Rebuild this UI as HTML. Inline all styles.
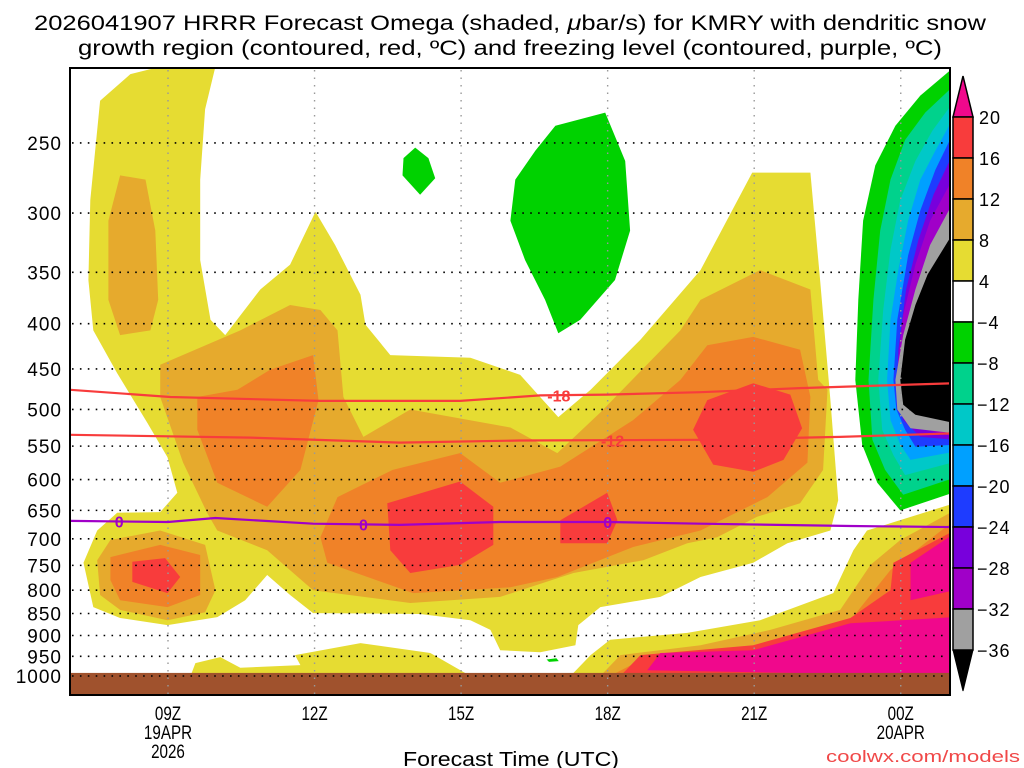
<!DOCTYPE html>
<html><head><meta charset="utf-8"><title>HRRR Omega KMRY</title>
<style>
html,body{margin:0;padding:0;background:#fff;}
svg{display:block;font-family:"Liberation Sans",sans-serif;}
</style></head>
<body>
<svg id="chart" width="1024" height="768" viewBox="0 0 1024 768" xmlns="http://www.w3.org/2000/svg">
<defs><clipPath id="plotclip"><rect x="70" y="68" width="880" height="627"/></clipPath></defs>
<rect x="0" y="0" width="1024" height="768" fill="#fff"/>
<g font-size="21" fill="#000" text-anchor="middle">
<text x="510" y="30" textLength="952" lengthAdjust="spacingAndGlyphs">2026041907 HRRR Forecast Omega (shaded, <tspan font-style="italic">μ</tspan>bar/s) for KMRY with dendritic snow</text>
<text x="510" y="55" textLength="864" lengthAdjust="spacingAndGlyphs">growth region (contoured, red, ºC) and freezing level (contoured, purple, ºC)</text>
</g>
<g id="fills" clip-path="url(#plotclip)"></g>
<g id="grid"></g>
<g id="lines" clip-path="url(#plotclip)"></g>
<g id="axes"></g>
<g id="cbar"></g>
<text x="511" y="766" font-size="20" text-anchor="middle" textLength="216" lengthAdjust="spacingAndGlyphs">Forecast Time (UTC)</text>
<text x="1020" y="762" font-size="17" fill="#f04848" text-anchor="end" textLength="194" lengthAdjust="spacingAndGlyphs">coolwx.com/models</text>
</svg>
<script>
// ---- axis data ----
const pressureTicks = [250,300,350,400,450,500,550,600,650,700,750,800,850,900,950,1000];
const hourTicks = [9,12,15,18,21,24];
const hourLabels = ["09Z","12Z","15Z","18Z","21Z","00Z"];
const dateLabels = [["19APR","2026"],[],[],[],[],["20APR"]];
const cbarLevels = [20,16,12,8,4,-4,-8,-12,-16,-20,-24,-28,-32,-36];
const cbarColors = ["#f83c3c","#f08228","#e6aa2d","#e6dc32","#ffffff","#00d200","#00d28c","#00c8c8","#00a0ff","#1e3cff","#7800dc","#a000c8","#a0a0a0"];

// ---- omega contour regions [hour, hPa] ----
const yellowMain = [[7.61,224],[8.23,209],[8.84,205],[9.97,205],[9.76,229],[9.66,275],[9.66,339],[9.87,396],[10.17,412],[10.89,366],[11.5,343],[12.02,299],[12.42,326],[12.94,371],[13.04,401],[13.55,434],[15.19,437],[16.21,457],[16.99,510],[17.65,475],[18.67,417],[19.9,348],[20.96,270],[22.15,270],[22.35,357],[22.56,488],[22.72,633],[22.56,685],[21.68,708],[20.98,745],[19.9,773],[19.08,814],[17.85,836],[17.4,876],[17.34,923],[16.62,940],[15.8,935],[15.6,887],[15.19,865],[14.16,851],[11.97,849],[11.5,810],[11.03,769],[10.58,821],[10.01,858],[8.99,876],[8.02,860],[7.47,836],[7.27,745],[7.55,685],[7.96,654],[8.84,653],[9.19,621],[8.99,566],[8.58,518],[7.96,455],[7.47,407],[7.37,357],[7.41,290]];
const yellowBottomLeft = [[9.46,1000],[9.56,967],[10.07,952],[10.48,979],[11.71,972],[11.6,947],[12.94,918],[14.37,942],[15.19,1000]];
const yellowBottomRight = [[17.24,1000],[17.65,947],[18.05,910],[19.63,894],[21.12,865],[22.62,806],[23.03,721],[23.31,685],[25.1,638],[25.1,1000]];
const goldColumn = [[8.02,272],[8.54,275],[8.74,314],[8.8,376],[8.64,407],[8.02,412],[7.78,376],[7.78,306]];
const goldMain = [[8.84,445],[10.48,407],[11.5,381],[12.12,386],[12.47,407],[12.59,484],[13.0,537],[13.96,500],[16.01,524],[16.97,560],[17.85,504],[19.49,407],[19.9,376],[21.12,348],[22.15,366],[22.31,463],[22.5,475],[22.41,585],[21.94,638],[21.06,661],[20.24,697],[19.63,708],[18.73,740],[17.3,765],[15.8,814],[13.96,827],[11.97,800],[11.03,721],[10.01,685],[9.8,654],[9.31,574],[8.84,484]];
const goldBlob = [[7.55,740],[7.82,702],[8.84,685],[9.76,711],[9.97,800],[9.76,847],[8.99,865],[8.02,842],[7.61,810]];
const goldBottom = [[17.85,1000],[18.26,947],[19.9,923],[21.33,887],[22.76,842],[23.38,749],[23.99,702],[25.1,650],[25.1,1000]];
const orangeUpper = [[9.6,484],[10.42,475],[11.09,451],[11.97,434],[12.08,488],[11.71,585],[11.03,644],[10.01,605],[9.6,527]];
const orangeMain = [[12.12,697],[12.26,745],[14.02,806],[16.01,794],[16.97,773],[18.52,715],[19.9,685],[21.27,628],[22.09,574],[22.15,484],[21.94,428],[20.98,414],[20.04,423],[19.49,463],[18.52,514],[17.03,580],[15.8,605],[14.98,560],[13.6,585],[12.47,628]];
const orangeBlob = [[7.82,734],[8.84,711],[9.66,730],[9.66,810],[8.99,836],[8.02,821],[7.82,779]];
const orangeBottom = [[18.05,1000],[18.87,947],[21.12,923],[22.97,865],[23.79,759],[25.1,667],[25.1,1000]];
const redBlob = [[8.27,743],[8.94,736],[9.25,773],[8.99,806],[8.27,783]];
const redCentral = [[13.49,638],[14.98,603],[15.66,644],[15.66,711],[14.98,749],[13.96,765],[13.55,721]];
const red18z = [[17.03,667],[17.99,621],[18.2,667],[17.99,708],[17.03,708]];
const red21z = [[19.75,527],[20.04,488],[20.98,467],[21.74,481],[21.98,525],[21.6,570],[20.98,588],[20.16,577]];
const redBottom = [[18.26,1000],[18.67,947],[20.98,923],[22.97,860],[23.79,800],[23.85,745],[25.1,685],[25.1,1000]];
const magentaBottom = [[18.81,985],[19.08,942],[20.98,935],[22.97,872],[25.1,858],[25.1,1000]];
const magentaBlob = [[24.2,745],[25.1,690],[25.1,800],[24.2,821]];
const greenSmall = [[13.82,260],[14.06,253],[14.33,260],[14.47,274],[14.16,286],[13.8,272]];
const greenBig = [[16.93,239],[17.95,231],[18.36,262],[18.46,314],[18.15,357],[17.44,396],[16.99,410],[16.72,376],[16.31,339],[16.01,306],[16.11,275],[16.52,255]];
const greenSpeck = [[16.75,958],[16.95,955],[17.0,962],[16.8,964]];
const greenSpeck2 = [[7.65,998],[8.15,996],[8.15,1000],[7.65,1000]];
// negative-omega bands at right edge (outer to inner)
const bandGreen = [[25.1,205],[24.4,221],[23.89,239],[23.48,265],[23.23,306],[23.13,376],[23.07,463],[23.21,548],[23.52,605],[23.99,650],[25.1,620]];
const bandTeal = [[25.1,215],[24.5,231],[24.09,248],[23.79,275],[23.58,314],[23.44,376],[23.34,463],[23.42,541],[23.68,585],[24.05,624],[25.1,597]];
const bandCyan = [[25.1,224],[24.65,242],[24.3,262],[23.99,290],[23.79,330],[23.64,386],[23.54,463],[23.62,527],[23.85,563],[24.09,593],[25.1,573]];
const bandAzure = [[25.1,233],[24.71,255],[24.4,275],[24.15,306],[23.95,348],[23.79,396],[23.72,463],[23.79,514],[23.99,548],[24.2,570],[25.1,558]];
const bandBlue = [[25.1,242],[24.71,268],[24.4,298],[24.15,335],[23.93,396],[23.85,463],[23.91,500],[24.09,527],[24.3,551],[25.1,548]];
const bandViolet = [[25.1,255],[24.67,286],[24.36,322],[24.11,366],[23.95,428],[23.93,488],[24.05,514],[24.4,537],[25.1,541]];
const bandPurple = [[25.1,272],[24.6,306],[24.3,343],[24.05,391],[23.93,451],[23.95,494],[24.15,521],[25.1,537]];
const bandGray = [[25.1,290],[24.6,326],[24.3,366],[24.05,412],[23.89,463],[23.93,500],[24.2,525],[25.1,532]];
const bandBlack = [[25.1,314],[24.55,352],[24.3,381],[24.09,417],[23.99,463],[24.05,494],[24.3,507],[25.1,518]];

// ---- temperature contour lines [hour, hPa] ----
const lineMinus18 = [[7,475],[9.05,484],[12.12,489],[14.98,489],[16.62,482],[17.99,481],[19.9,478],[21.94,473],[25.1,467]];
const lineMinus12 = [[7,534],[10.68,538],[13.75,545],[16.21,542],[19.9,541],[22.76,537],[25.1,532]];
const lineFreezing = [[7,668],[9,670],[9.97,663],[11.97,673],[13.75,675],[15.8,670],[17.99,670],[19.9,673],[22.97,677],[25.1,679]];
const labelMinus18 = [17.0,482];
const labelMinus12 = [18.1,542];
const freezingLabelHours = [8,13,18];

// ---- axis functions ----
function xs(h){ return 168 + (h-9)*48.85; }
function ys(p){ return 676 - 384.5*Math.log(1000/p); }
const NS = "http://www.w3.org/2000/svg";
function mk(tag, parent){ const e=document.createElementNS(NS,tag); parent.appendChild(e); return e; }
function pts(arr){ return arr.map(d=>xs(d[0]).toFixed(1)+","+ys(d[1]).toFixed(1)).join(" "); }

const fillsG = document.getElementById("fills");
function region(arr, color, name){
  const e = mk("polygon", fillsG);
  e.setAttribute("points", pts(arr));
  e.setAttribute("fill", color);
  
  
}
region(yellowMain,"#e6dc32","omega-4-8-main");
region(yellowBottomLeft,"#e6dc32","omega-4-8-bottom-left");
region(yellowBottomRight,"#e6dc32","omega-4-8-bottom-right");
region(goldColumn,"#e6aa2d","omega-8-12-column");
region(goldMain,"#e6aa2d","omega-8-12-main");
region(goldBlob,"#e6aa2d","omega-8-12-blob");
region(goldBottom,"#e6aa2d","omega-8-12-bottom");
region(orangeUpper,"#f08228","omega-12-16-upper");
region(orangeMain,"#f08228","omega-12-16-main");
region(orangeBlob,"#f08228","omega-12-16-blob");
region(orangeBottom,"#f08228","omega-12-16-bottom");
region(redBlob,"#f83c3c","omega-16-20-blob");
region(redCentral,"#f83c3c","omega-16-20-central");
region(red18z,"#f83c3c","omega-16-20-18z");
region(red21z,"#f83c3c","omega-16-20-21z");
region(redBottom,"#f83c3c","omega-16-20-bottom");
region(magentaBottom,"#f0088c","omega-over-20-bottom");
region(magentaBlob,"#f0088c","omega-over-20-blob");
region(greenSmall,"#00d200","omega-neg4-small");
region(greenBig,"#00d200","omega-neg4-big");
region(greenSpeck,"#00d200","omega-neg4-speck");
region(greenSpeck2,"#00d200","omega-neg4-speck-left");
region(bandGreen,"#00d200","omega-band-neg4");
region(bandTeal,"#00d28c","omega-band-neg8");
region(bandCyan,"#00c8c8","omega-band-neg12");
region(bandAzure,"#00a0ff","omega-band-neg16");
region(bandBlue,"#1e3cff","omega-band-neg20");
region(bandViolet,"#7800dc","omega-band-neg24");
region(bandPurple,"#a000c8","omega-band-neg28");
region(bandGray,"#a0a0a0","omega-band-neg32");
region(bandBlack,"#000000","omega-band-neg36");
const groundRect = mk("rect", fillsG);
groundRect.setAttribute("x", xs(7)); groundRect.setAttribute("y", ys(992));
groundRect.setAttribute("width", 880); groundRect.setAttribute("height", 30);
groundRect.setAttribute("fill","#a0522d");



// grid
const gridG = document.getElementById("grid");
pressureTicks.forEach(p=>{
  const l = mk("line", gridG);
  l.setAttribute("x1",72); l.setAttribute("x2",948);
  l.setAttribute("y1",ys(p)); l.setAttribute("y2",ys(p));
  l.setAttribute("stroke","#000"); l.setAttribute("stroke-width","1.6");
  l.setAttribute("stroke-dasharray","1.6,6.3");
  
  
});
hourTicks.forEach(h=>{
  const l = mk("line", gridG);
  l.setAttribute("x1",xs(h)); l.setAttribute("x2",xs(h));
  l.setAttribute("y1",70); l.setAttribute("y2",695);
  l.setAttribute("stroke","#999"); l.setAttribute("stroke-width","1.4");
  l.setAttribute("stroke-dasharray","1.5,6");
  
  
});

// temperature lines
const linesG = document.getElementById("lines");
function cline(arr,color,name){
  const e = mk("polyline", linesG);
  e.setAttribute("points", pts(arr));
  e.setAttribute("fill","none"); e.setAttribute("stroke",color); e.setAttribute("stroke-width","2.2");
  
  
}
cline(lineMinus18,"#f83c3c","dgz-minus18-contour");
cline(lineMinus12,"#f83c3c","dgz-minus12-contour");
cline(lineFreezing,"#a000c8","freezing-level-contour");
function clabel(h,p,txt,color,name){
  const t = mk("text", linesG);
  t.setAttribute("x", xs(h)); t.setAttribute("y", ys(p)+6);
  t.setAttribute("text-anchor","middle"); t.setAttribute("font-size","16");
  t.setAttribute("font-weight","bold"); t.setAttribute("fill",color);
  t.textContent = txt;
  
  
}
clabel(labelMinus18[0],labelMinus18[1],"-18","#f83c3c","label-minus18");
clabel(labelMinus12[0],labelMinus12[1],"-12","#f83c3c","label-minus12");
freezingLabelHours.forEach(h=>{
  const idx = lineFreezing.findIndex(d=>d[0]>=h);
  const a = lineFreezing[Math.max(idx-1,0)], b = lineFreezing[idx];
  const f = b[0]===a[0]?0:(h-a[0])/(b[0]-a[0]);
  clabel(h, a[1]+(b[1]-a[1])*f, "0", "#a000c8", "label-freezing");
});

// axes
const axesG = document.getElementById("axes");
const plotFrame = mk("rect", axesG);
plotFrame.setAttribute("x",70); plotFrame.setAttribute("y",68); plotFrame.setAttribute("width",880); plotFrame.setAttribute("height",627);
plotFrame.setAttribute("fill","none"); plotFrame.setAttribute("stroke","#000"); plotFrame.setAttribute("stroke-width","2");


pressureTicks.forEach(p=>{
  const t = mk("text", axesG);
  t.setAttribute("x",62); t.setAttribute("y",ys(p)+7);
  t.setAttribute("text-anchor","end"); t.setAttribute("font-size","19");
  t.setAttribute("letter-spacing","1");
  t.textContent = p;
  
  
});
hourTicks.forEach((h,i)=>{
  const t = mk("text", axesG);
  t.setAttribute("x",xs(h)); t.setAttribute("y",720);
  t.setAttribute("text-anchor","middle"); t.setAttribute("font-size","19");
  t.setAttribute("transform","translate("+xs(h)+",0) scale(0.8,1) translate("+(-xs(h))+",0)");
  t.textContent = hourLabels[i];
  
  
  dateLabels[i].forEach((s,j)=>{
    const d = mk("text", axesG);
    d.setAttribute("x",xs(h)); d.setAttribute("y",739+j*19);
    d.setAttribute("text-anchor","middle"); d.setAttribute("font-size","19");
    d.setAttribute("transform","translate("+xs(h)+",0) scale(0.8,1) translate("+(-xs(h))+",0)");
    d.textContent = s;
    
    
  });
});

// colorbar
const cbarG = document.getElementById("cbar");
function cby(i){ return 117 + i*41; }
const cbTopArrow = mk("polygon", cbarG);
cbTopArrow.setAttribute("points", "953,"+cby(0)+" 973,"+cby(0)+" 963,76");
cbTopArrow.setAttribute("fill","#f0088c"); cbTopArrow.setAttribute("stroke","#000"); cbTopArrow.setAttribute("stroke-width","1.5");


cbarColors.forEach((c,i)=>{
  const r = mk("rect", cbarG);
  r.setAttribute("x",953); r.setAttribute("y",cby(i)); r.setAttribute("width",20); r.setAttribute("height",41);
  r.setAttribute("fill",c); r.setAttribute("stroke","#000"); r.setAttribute("stroke-width","1.5");
  
  
});
const cbBotArrow = mk("polygon", cbarG);
cbBotArrow.setAttribute("points", "953,"+cby(13)+" 973,"+cby(13)+" 963,691");
cbBotArrow.setAttribute("fill","#000"); cbBotArrow.setAttribute("stroke","#000");


cbarLevels.forEach((v,i)=>{
  const t = mk("text", cbarG);
  t.setAttribute("x", v<0?977:979); t.setAttribute("y", cby(i)+7);
  t.setAttribute("font-size","18");
  t.setAttribute("letter-spacing","1");
  t.textContent = v<0 ? "\u2212"+Math.abs(v) : v;
  
  
});
</script>
</body></html>
